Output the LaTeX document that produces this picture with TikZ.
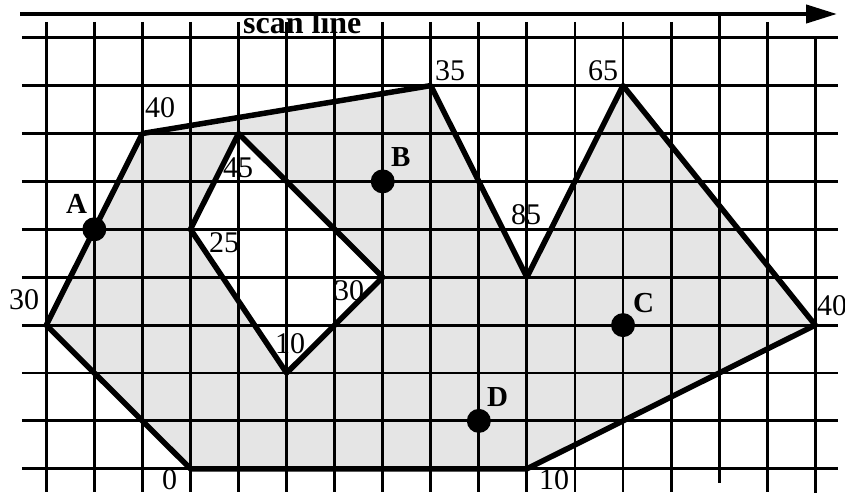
\documentclass[tikz,border=0pt]{standalone}
\usepackage{fontspec}
\setmainfont{Liberation Serif}
\usetikzlibrary{arrows.meta}
\definecolor{fillgray}{RGB}{229,229,229}
\begin{document}
\begin{tikzpicture}[x=1pt,y=-1pt,
  gridline/.style={line width=2.9pt, line cap=butt},
  edge/.style={line width=5.5pt, line join=round},
  num/.style={anchor=base west, inner sep=0pt, font=\fontsize{30}{34}\selectfont},
  ptlabel/.style={anchor=base west, inner sep=0pt, font=\fontsize{29}{33}\selectfont\bfseries},
  dot/.style={circle, fill=black, minimum size=24pt, inner sep=0pt}]
\useasboundingbox (0,0) rectangle (845,494);

% grid-unit coordinates
\begin{scope}[shift={(46.3,37.7)}, x=48.06pt, y=-47.9pt]
  % outer boundary
  \coordinate (o1) at (0,6);
  \coordinate (o2) at (2,2);
  \coordinate (o3) at (8,1);
  \coordinate (o4) at (10,5);
  \coordinate (o5) at (12,1);
  \coordinate (o6) at (16,6);
  \coordinate (o7) at (10,9);
  \coordinate (o8) at (3,9);
  % hole
  \coordinate (h1) at (4,2);
  \coordinate (h2) at (3,4);
  \coordinate (h3) at (5,7);
  \coordinate (h4) at (7,5);
  % sample points
  \coordinate (pA) at (1,4);
  \coordinate (pB) at (7,3);
  \coordinate (pC) at (12,6);
  \coordinate (pD) at (9,8);

  % filled region with hole
  \fill[fillgray, even odd rule] (o1)--(o2)--(o3)--(o4)--(o5)--(o6)--(o7)--(o8)--cycle
                                 (h1)--(h2)--(h3)--(h4)--cycle;
\end{scope}

% vertex numbers
\node[num] (n40a) at (145,118) {40};
\node[num] (n35)  at (435,81) {35};
\node[num] (n65)  at (588,81) {65};
\node[num] (n85)  at (511,225) {85};
\node[num] (n45)  at (223,178) {45};
\node[num] (n25)  at (209,252) {25};
\node[num] (n30i) at (334,300) {30};
\node[num] (n10i) at (275,353) {10};
\node[num] (n30o) at (9,309) {30};
\node[num] (n0)   at (162,489) {0};
\node[num] (n10o) at (539,489) {10};
\node[num] (n40b) at (817,315) {40};

% scan line label (top clipped)
\begin{scope}
  \clip (0,16) rectangle (845,60);
  \node[anchor=base west, inner sep=0pt, font=\fontsize{32}{36}\selectfont\bfseries] (scan) at (243,33.5) {scan line};
\end{scope}

% grid
\begin{scope}[shift={(46.3,37.7)}, x=48.06pt, y=-47.9pt]
  \foreach \j in {0,...,9}
    \draw[gridline] (-0.506,\j) -- (16.47,\j);
  \foreach \i in {0,1,2,3,4,5,6,7,8,9,10,11,12,13,15}
    \draw[gridline] (\i,-0.328) -- (\i,9.48);
  \draw[gridline] (14,-0.495) -- (14,9.30);
  \draw[gridline] (16,0) -- (16,9.505);
\end{scope}

% polygon outline
\draw[edge] (o1)--(o2)--(o3)--(o4)--(o5)--(o6)--(o7)--(o8)--cycle;
\draw[edge] (h1)--(h2)--(h3)--(h4)--cycle;

% points
\node[dot] (dA) at (pA) {};
\node[dot] (dB) at (pB) {};
\node[dot] (dC) at (pC) {};
\node[dot] (dD) at (pD) {};
\node[ptlabel] (lA) at (66,214) {A};
\node[ptlabel] (lB) at (391,167) {B};
\node[ptlabel] (lC) at (633,312) {C};
\node[ptlabel] (lD) at (487,406) {D};

% scan line arrow
\coordinate (s0) at (20,14);
\coordinate (s1) at (837,14);
\draw[line width=4.2pt, -{Triangle[length=31pt,width=18pt]}] (s0) -- (s1);
\end{tikzpicture}
\end{document}
